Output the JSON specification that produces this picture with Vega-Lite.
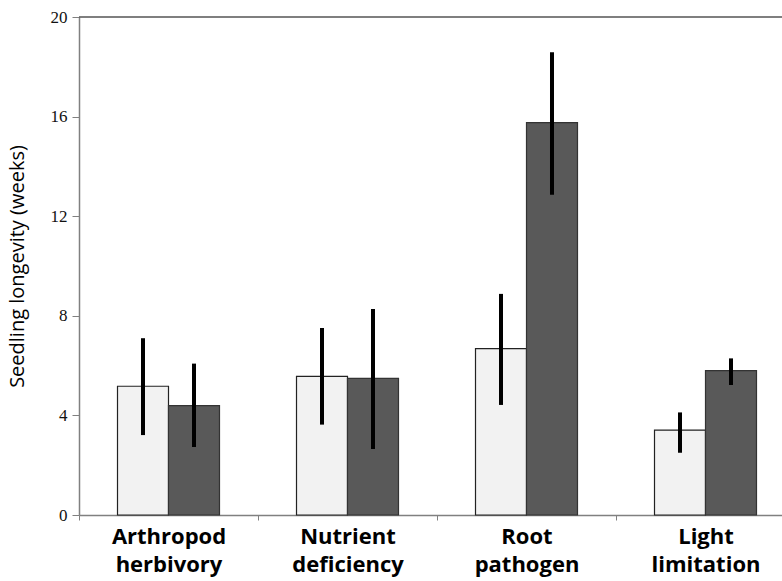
{
  "$schema": "https://vega.github.io/schema/vega-lite/v6.json",
  "autosize": {"type": "none"},
  "padding": {"left": 79, "top": 17, "right": 0, "bottom": 66},
  "width": 703,
  "height": 498,
  "background": "white",
  "config": {"view": {"stroke": null}},
  "data": {
    "values": [
      {"factor": "Arthropod herbivory", "group": "a", "mean": 5.17, "lo": 3.21, "hi": 7.10},
      {"factor": "Arthropod herbivory", "group": "b", "mean": 4.39, "lo": 2.73, "hi": 6.08},
      {"factor": "Nutrient deficiency", "group": "a", "mean": 5.57, "lo": 3.63, "hi": 7.51},
      {"factor": "Nutrient deficiency", "group": "b", "mean": 5.49, "lo": 2.65, "hi": 8.27},
      {"factor": "Root pathogen", "group": "a", "mean": 6.68, "lo": 4.42, "hi": 8.88},
      {"factor": "Root pathogen", "group": "b", "mean": 15.76, "lo": 12.86, "hi": 18.58},
      {"factor": "Light limitation", "group": "a", "mean": 3.41, "lo": 2.50, "hi": 4.12},
      {"factor": "Light limitation", "group": "b", "mean": 5.80, "lo": 5.22, "hi": 6.29}
    ]
  },
  "encoding": {
    "x": {
      "field": "factor",
      "type": "nominal",
      "sort": ["Arthropod herbivory", "Nutrient deficiency", "Root pathogen", "Light limitation"],
      "scale": {"range": [0, 716], "paddingInner": 0, "paddingOuter": 0},
      "axis": {
        "title": null,
        "labelAngle": 0,
        "labelExpr": "split(datum.label, ' ')",
        "labelFont": "Open Sans",
        "labelFontWeight": "bold",
        "labelFontSize": 22,
        "labelLineHeight": 28,
        "labelColor": "#000000",
        "labelPadding": 6,
        "tickBand": "extent",
        "tickSize": 5,
        "tickColor": "#808080",
        "domainColor": "#808080",
        "domainWidth": 1.5,
        "labelLimit": 300
      }
    },
    "xOffset": {
      "field": "group",
      "type": "nominal",
      "scale": {"paddingOuter": 0.755, "paddingInner": 0}
    }
  },
  "layer": [
    {
      "data": {"values": [{"v": 20}]},
      "mark": {"type": "rule", "color": "#555555", "strokeWidth": 1.5},
      "encoding": {"x": null, "xOffset": null, "y": {"field": "v", "type": "quantitative", "scale": {"domain": [0, 20]}}}
    },
    {
      "mark": {"type": "bar", "strokeWidth": 1.2},
      "encoding": {
        "y": {
          "field": "mean",
          "type": "quantitative",
          "scale": {"domain": [0, 20], "nice": false},
          "axis": {
            "title": "Seedling longevity (weeks)",
            "titleFont": "Open Sans",
            "titleFontSize": 20,
            "titleFontWeight": "normal",
            "titleColor": "#000000",
            "titleX": -52,
            "values": [0, 4, 8, 12, 16, 20],
            "labelFont": "Liberation Serif",
            "labelFontSize": 17,
            "labelColor": "#111111",
            "labelPadding": 5,
            "tickSize": 7,
            "tickColor": "#808080",
            "domainColor": "#808080",
            "domainWidth": 1.5,
            "grid": false
          }
        },
        "fill": {"field": "group", "type": "nominal", "scale": {"domain": ["a", "b"], "range": ["#f2f2f2", "#595959"]}, "legend": null},
        "stroke": {"field": "group", "type": "nominal", "scale": {"domain": ["a", "b"], "range": ["#222222", "#333333"]}, "legend": null}
      }
    },
    {
      "mark": {"type": "rule", "color": "#000000", "strokeWidth": 4},
      "encoding": {
        "y": {"field": "lo", "type": "quantitative"},
        "y2": {"field": "hi"}
      }
    }
  ]
}
